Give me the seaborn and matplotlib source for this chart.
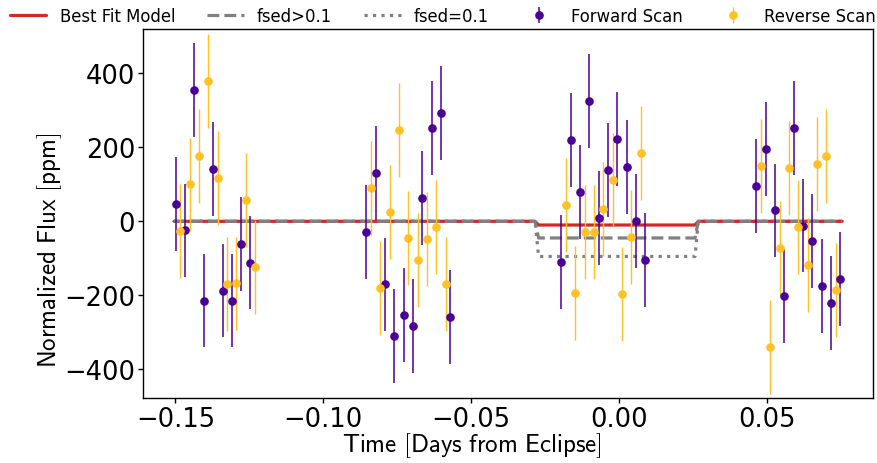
import numpy as np
import pandas as pd
import matplotlib
matplotlib.use("Agg")
import matplotlib.pyplot as plt
import seaborn as sns

# ---------------- data ----------------
fwd_time = [-0.1499, -0.1468, -0.1436, -0.1405, -0.1373, -0.1341, -0.1310, -0.1278, -0.1247,
            -0.0855, -0.0823, -0.0791, -0.0760, -0.0728, -0.0697, -0.0665, -0.0633, -0.0602, -0.0570,
            -0.0195, -0.0163, -0.0132, -0.0100, -0.0069, -0.0037, -0.0006, 0.0026, 0.0057, 0.0089,
            0.0464, 0.0496, 0.0528, 0.0559, 0.0591, 0.0622, 0.0654, 0.0685, 0.0717, 0.0748]
fwd_flux = [48, -24, 356, -215, 141, -187, -214, -61, -112,
            -29, 131, -170, -309, -253, -283, 63, 251, 293, -258,
            -109, 220, 79, 326, 9, 139, 222, 148, 2, -105,
            96, 196, 30, -201, 251, -12, -54, -174, -221, -157]
fwd_err = [127, 126, 127, 126, 127, 126, 126, 127, 126,
           127, 127, 126, 127, 126, 127, 127, 127, 127, 127,
           127, 127, 126, 127, 126, 127, 127, 127, 127, 127,
           127, 127, 126, 127, 127, 126, 127, 127, 127, 127]

rev_time = [-0.1484, -0.1452, -0.1420, -0.1389, -0.1357, -0.1326, -0.1294, -0.1262, -0.1231,
            -0.0839, -0.0807, -0.0775, -0.0744, -0.0712, -0.0681, -0.0649, -0.0618, -0.0586,
            -0.0179, -0.0148, -0.0116, -0.0085, -0.0053, -0.0021, 0.0010, 0.0042, 0.0073,
            0.0480, 0.0512, 0.0543, 0.0575, 0.0606, 0.0638, 0.0670, 0.0701, 0.0733]
rev_flux = [-26, 100, 176, 378, 118, -170, -168, 58, -124,
            91, -179, 25, 248, -45, -104, -47, -15, -170,
            45, -195, -29, -29, 34, 113, -197, -43, 184,
            149, -340, -73, 145, -15, -119, 156, 176, -186]
rev_err = [126, 126, 127, 127, 127, 127, 126, 127, 127,
           127, 127, 127, 127, 126, 127, 127, 127, 127,
           127, 127, 127, 127, 127, 127, 127, 127, 127,
           127, 127, 127, 127, 127, 127, 127, 127, 127]

model_time = [-0.1505, -0.0284, -0.0272, 0.0257, 0.0268, 0.0755]
best_fit = [0, 0, -10, -10, 0, 0]
fsed_gt = [0, 0, -45, -45, 0, 0]
fsed_eq = [0, 0, -95, -95, 0, 0]

# ---------------- style ----------------
sns.set_theme(style="ticks")
plt.rcParams["font.family"] = ["DejaVu Sans"]
plt.rcParams["mathtext.fontset"] = "cm"
plt.rcParams["axes.linewidth"] = 1.0
for k in ["text.color", "axes.labelcolor", "xtick.color", "ytick.color", "axes.edgecolor"]:
    plt.rcParams[k] = "black"

purple = "#4b0096"
gold = "#ffc125"
red = "#d62728"
gray = "#808080"

fig = plt.figure(figsize=(8.78, 4.64), dpi=100)
ax = fig.add_axes([0.1625, 0.140, 0.8318, 0.7953])

models = pd.DataFrame({"time": model_time, "best": best_fit, "gt": fsed_gt, "eq": fsed_eq})

sns.lineplot(data=models, x="time", y="eq", ax=ax, color=gray, lw=2.3,
             linestyle=":", label="fsed=0.1", zorder=2, estimator=None, sort=False)
sns.lineplot(data=models, x="time", y="best", ax=ax, color=red, lw=2.3,
             label="Best Fit Model", zorder=3, estimator=None, sort=False)
sns.lineplot(data=models, x="time", y="gt", ax=ax, color=gray, lw=2.3,
             linestyle="--", dashes=(4.5, 2.2), label="fsed>0.1", zorder=4,
             estimator=None, sort=False)

ax.errorbar(fwd_time, fwd_flux, yerr=fwd_err, fmt="o", color=purple, ms=5.2,
            elinewidth=1.1, capsize=0, label="Forward Scan", zorder=5)
ax.errorbar(rev_time, rev_flux, yerr=rev_err, fmt="o", color=gold, ms=5.2,
            elinewidth=1.0, capsize=0, label="Reverse Scan", zorder=5)

ax.set_xlim(-0.1611, 0.0859)
ax.set_ylim(-477.6, 519.7)
ax.set_xticks([-0.15, -0.10, -0.05, 0.0, 0.05])
ax.set_xticklabels(["\u22120.15", "\u22120.10", "\u22120.05", "0.00", "0.05"])
ax.set_yticks([-400, -200, 0, 200, 400])
ax.set_yticklabels(["\u2212400", "\u2212200", "0", "200", "400"])
ax.tick_params(axis="both", labelsize=18.5, length=3.5, width=1, direction="out", pad=2,
               colors="black")
for s in ax.spines.values():
    s.set_visible(True)
    s.set_color("black")

ax.set_xlabel(r"$\mathsf{Time\ [Days\ from\ Eclipse]}$", fontsize=18)
ax.set_ylabel(r"$\mathsf{Normalized\ Flux\ [ppm]}$", fontsize=18)
ax.xaxis.set_label_coords(0.451, -0.087)
ax.yaxis.set_label_coords(-0.108, 0.404)

h, l = ax.get_legend_handles_labels()
order = ["Best Fit Model", "fsed>0.1", "fsed=0.1", "Forward Scan", "Reverse Scan"]
hd = dict(zip(l, h))
if ax.legend_:
    ax.legend_.remove()
fig.legend([hd[k] for k in order], order, loc="upper left", bbox_to_anchor=(0.0, 1.005),
           ncol=5, frameon=False, fontsize=11.9, handlelength=2.2, handletextpad=0.8,
           columnspacing=1.95, borderaxespad=0.2, labelcolor="black")

fig.savefig("out.png", dpi=100)
